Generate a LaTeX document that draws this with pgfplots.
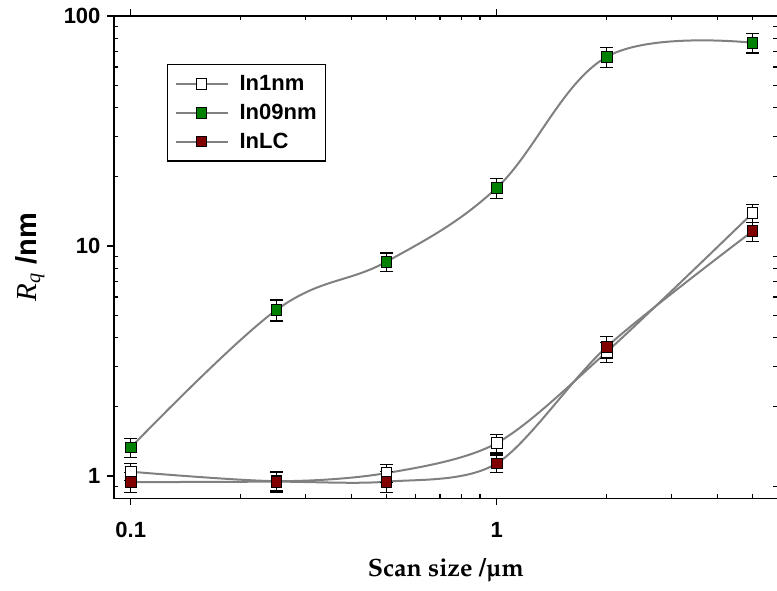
\documentclass[border=0pt]{standalone}
\usepackage{fontspec}
\setmainfont{Liberation Sans}
\newfontfamily\tms{Liberation Serif}
\usepackage{pgfplots}
\pgfplotsset{compat=1.18}
\newcommand\pal{\fontencoding{T1}\fontfamily{ppl}\fontseries{b}\fontshape{n}\selectfont}
\definecolor{lgray}{RGB}{128,128,128}
\definecolor{mgreen}{RGB}{0,128,0}
\definecolor{mred}{RGB}{128,0,0}
\begin{document}
\begin{tikzpicture}
\path[use as bounding box] (-114pt,-91.7pt) rectangle (663pt,498.3pt);
\begin{axis}[
  at={(0,0)}, anchor=south west,
  xmode=log, ymode=log, scale only axis,
  width=663.5pt, height=482.3pt,
  xmin=0.09, xmax=5.85, ymin=0.8, ymax=100,
  axis line style={line width=1.3pt},
  xtick={0.1,1}, xticklabels={0.1,1},
  ytick={1,10,100}, yticklabels={1,10,100},
  minor xtick={0.2,0.3,0.4,0.5,0.6,0.7,0.8,0.9,2,3,4,5},
  minor ytick={0.9,2,3,4,5,6,7,8,9,20,30,40,50,60,70,80,90},
  tick align=inside, major tick length=-7pt, minor tick length=4.5pt,
  every tick/.style={black, line width=1.1pt},
  ticklabel style={font=\bfseries\fontsize{22}{26}\selectfont},
  xticklabel style={anchor=center, yshift=-32pt},
  yticklabel style={anchor=east, xshift=-10pt},
  xlabel={\pal Scan size /\textmu m},
  xlabel style={at={(axis description cs:0.5,-0.1493)}, anchor=center, font=\fontsize{25}{29}\selectfont},
  ylabel={{\tms\itshape R\textsubscript{q}} \textbf{/nm}},
  ylabel style={at={(axis description cs:-0.1266,0.5)}, anchor=center, font=\fontsize{29}{33}\selectfont},
  legend style={at={(axis description cs:0.0799,0.9005)}, anchor=north west, draw=black, line width=1.2pt,
    font=\bfseries\fontsize{22}{26}\selectfont, row sep=8pt, cells={anchor=west},
    inner xsep=7pt, inner ysep=9pt,
    /tikz/every odd column/.append style={column sep=9pt}},
  legend image code/.code={\draw[mark repeat=2,mark phase=2,#1] plot coordinates {(0pt,0pt) (26pt,0pt) (52pt,0pt)};},
  error bars/error bar style={black, line width=1.2pt},
  error bars/error mark options={rotate=90, black, line width=1.2pt, mark size=6.5pt},
]
% smooth connecting curves
\addplot[lgray, line width=2pt, smooth, forget plot] coordinates {(0.1,1.044) (0.25,0.95) (0.5,1.03) (1,1.39) (2,3.47) (5,13.9)};
\addplot[lgray, line width=2pt, smooth, tension=0.62, forget plot] coordinates {(0.1,1.33) (0.25,5.27) (0.5,8.55) (1,17.9) (2,66.5) (5,76.5)};
\addplot[lgray, line width=2pt, smooth, forget plot] coordinates {(0.1,0.94) (0.25,0.945) (0.5,0.945) (1,1.135) (2,3.65) (5,11.6)};
% markers with error bars
\addplot[only marks, forget plot, mark=square*, mark size=5.3pt, mark options={draw=black, fill=white, line width=0.9pt},
  error bars/.cd, y dir=both, y explicit] coordinates {
  (0.1,1.044) +- (0,0.09) (0.25,0.95) +- (0,0.09) (0.5,1.03) +- (0,0.09)
  (1,1.39) +- (0,0.13) (2,3.47) +- (0,0.35) (5,13.9) +- (0,1.2)};
\addplot[only marks, forget plot, mark=square*, mark size=5.3pt, mark options={draw=black, fill=mgreen, line width=0.9pt},
  error bars/.cd, y dir=both, y explicit] coordinates {
  (0.1,1.33) +- (0,0.13) (0.25,5.27) +- (0,0.55) (0.5,8.55) +- (0,0.78)
  (1,17.9) +- (0,1.8) (2,66.5) +- (0,6.7) (5,76.5) +- (0,7.5)};
\addplot[only marks, forget plot, mark=square*, mark size=5.3pt, mark options={draw=black, fill=mred, line width=0.9pt},
  error bars/.cd, y dir=both, y explicit] coordinates {
  (0.1,0.94) +- (0,0.095) (0.25,0.945) +- (0,0.1) (0.5,0.945) +- (0,0.1)
  (1,1.135) +- (0,0.1) (2,3.65) +- (0,0.4) (5,11.6) +- (0,1.1)};
\addlegendimage{lgray, line width=2pt, mark=square*, mark size=5.3pt, mark options={draw=black, fill=white, line width=0.9pt}}
\addlegendentry{In1nm}
\addlegendimage{lgray, line width=2pt, mark=square*, mark size=5.3pt, mark options={draw=black, fill=mgreen, line width=0.9pt}}
\addlegendentry{In09nm}
\addlegendimage{lgray, line width=2pt, mark=square*, mark size=5.3pt, mark options={draw=black, fill=mred, line width=0.9pt}}
\addlegendentry{InLC}
\end{axis}
\end{tikzpicture}
\end{document}
